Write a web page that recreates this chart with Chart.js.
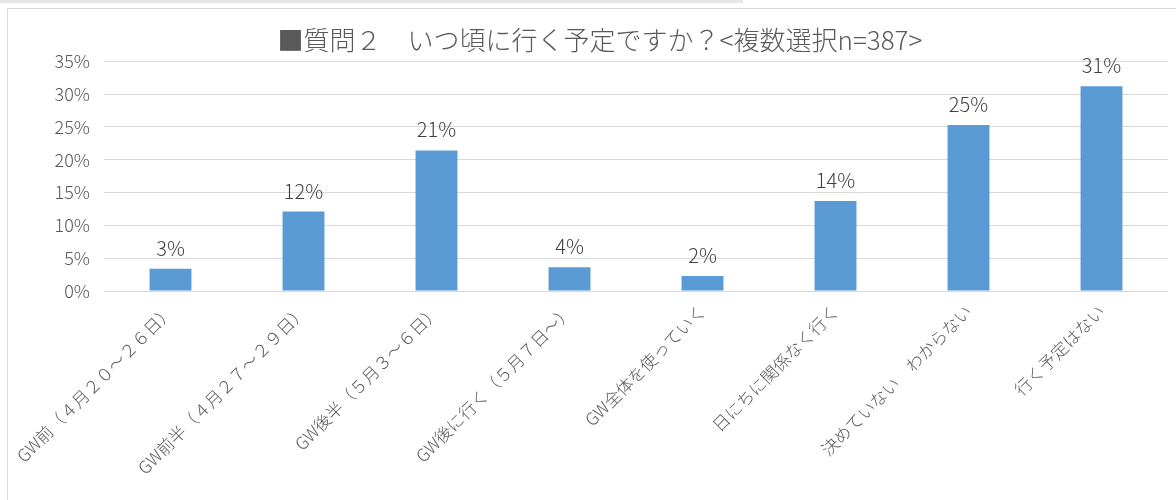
<!DOCTYPE html>
<html lang="ja">
<head>
<meta charset="utf-8">
<title>質問２</title>
<script src="https://cdn.jsdelivr.net/npm/chart.js@4.4.1/dist/chart.umd.min.js"></script>
<style>
  html, body { margin: 0; padding: 0; background: #fff; }
  #wrap { position: relative; width: 1176px; height: 500px; overflow: hidden; }
  #strip { position: absolute; left: 0; top: 0; width: 743px; height: 3px; background: #e6e6e6; }
  #frame { position: absolute; left: 7px; top: 8px; width: 1200px; height: 520px;
           border-left: 1px solid #d9d9d9; border-top: 1px solid #d9d9d9; }
  canvas { position: absolute; left: 0; top: 0; }
</style>
</head>
<body>
<div id="wrap">
  <div id="strip"></div>
  <div id="frame"></div>
  <canvas id="chart" width="1176" height="500"></canvas>
</div>
<script>
const FONT = '"Noto Sans CJK JP", "Noto Sans", sans-serif';

const titleText = '■質問２　いつ頃に行く予定ですか？<複数選択n=387>';
const categories = [
    'GW前（４月２０～２６日）',
    'GW前半（４月２７～２９日）',
    'GW後半（５月３～６日）',
    'GW後に行く（５月７日～）',
    'GW全体を使っていく',
    '日にちに関係なく行く',
    '決めていない　わからない',
    '行く予定はない'
];
// percent of respondents
const shares = [3.4, 12.1, 21.4, 3.6, 2.3, 13.7, 25.3, 31.2];
const yTicks = [0, 5, 10, 15, 20, 25, 30, 35];

// draws the "21%" style labels over each bar
const barLabels = {
    id: 'barLabels',
    afterDatasetsDraw(chart) {
        const ctx = chart.ctx;
        const meta = chart.getDatasetMeta(0);
        ctx.save();
        ctx.font = '300 20px ' + FONT;
        ctx.fillStyle = '#404040';
        ctx.textAlign = 'center';
        ctx.textBaseline = 'alphabetic';
        meta.data.forEach(function (bar, i) {
            ctx.fillText(Math.round(shares[i]) + '%', bar.x, bar.y - 13);
        });
        ctx.restore();
    }
};

new Chart(document.getElementById('chart'), {
    type: 'bar',
    data: {
        labels: categories,
        datasets: [{
            data: shares,
            backgroundColor: '#5B9BD5',
            borderWidth: 0,
            categoryPercentage: 1,
            barPercentage: 0.315
        }]
    },
    options: {
        responsive: false,
        animation: false,
        layout: { padding: { left: 32, right: 8, top: 0, bottom: 0 } },
        plugins: {
            legend: { display: false },
            tooltip: { enabled: false },
            title: {
                display: true,
                text: titleText,
                color: '#595959',
                font: { family: FONT, size: 26, weight: 300 },
                padding: { top: 25, bottom: 5 }
            }
        },
        scales: {
            x: {
                grid: { display: false },
                border: { display: false },
                ticks: {
                    color: '#595959',
                    font: { family: FONT, size: 17, weight: 300 },
                    minRotation: 45,
                    maxRotation: 45,
                    autoSkip: false,
                    padding: 2
                },
                afterFit: function (scale) { scale.height = 209; }
            },
            y: {
                min: 0,
                max: 35,
                grid: { color: '#d9d9d9', lineWidth: 1, drawTicks: false },
                border: { display: false },
                ticks: {
                    color: '#595959',
                    font: { family: FONT, size: 18, weight: 300 },
                    padding: 14,
                    stepSize: 5,
                    callback: function (v) { return v + '%'; }
                },
                afterBuildTicks: function (scale) {
                    scale.ticks = yTicks.map(function (v) { return { value: v }; });
                },
                afterFit: function (scale) { scale.width = 72; }
            }
        }
    },
    plugins: [barLabels]
});
</script>
</body>
</html>
